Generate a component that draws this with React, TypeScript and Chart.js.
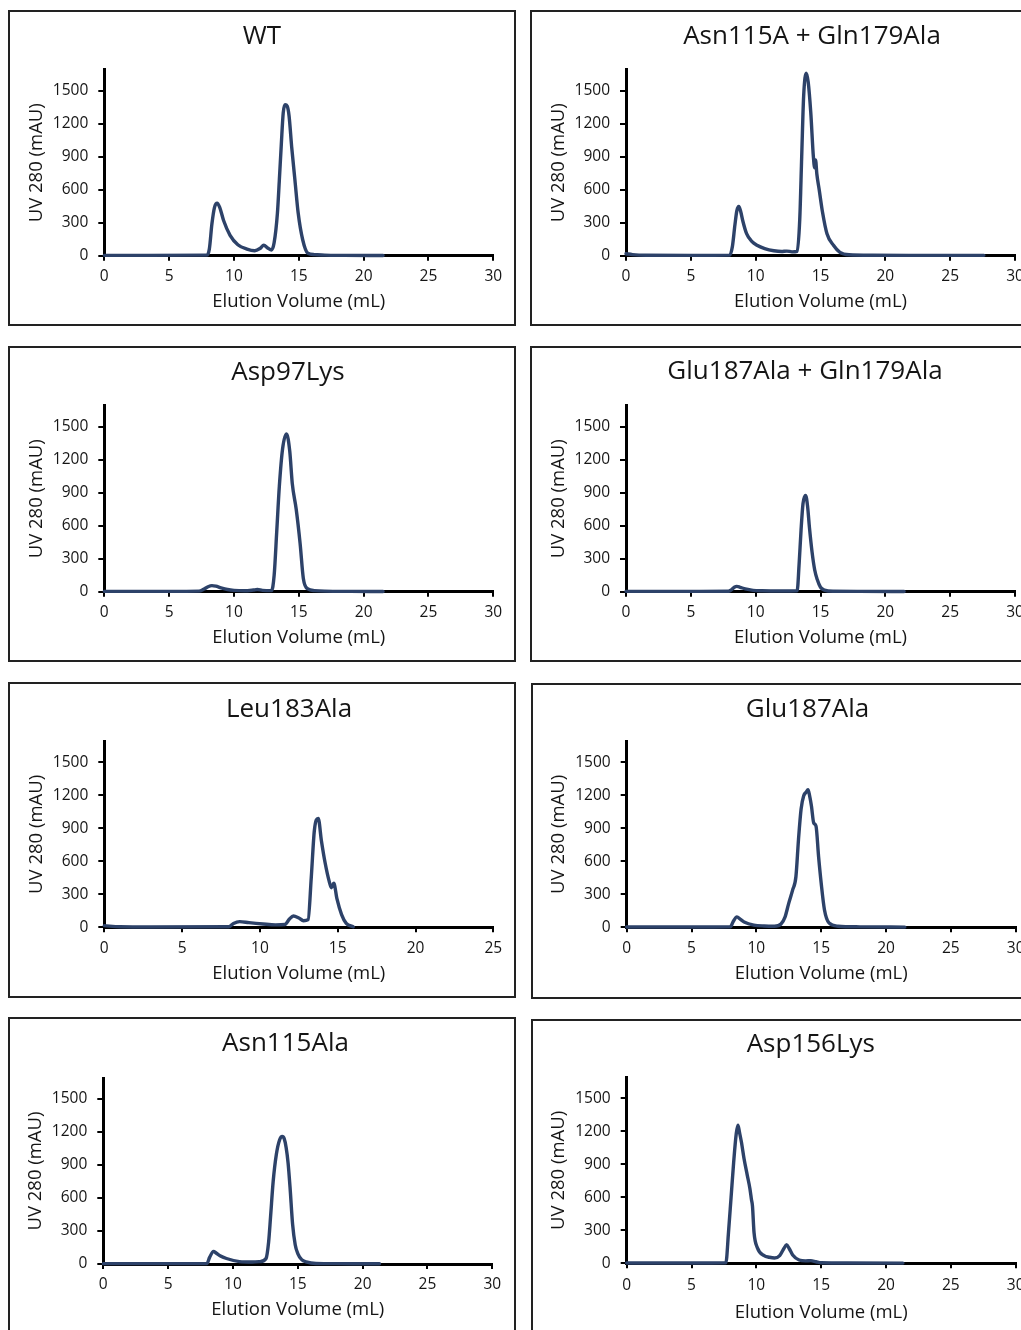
import React, { useEffect, useRef } from 'react';
import { Chart, registerables } from 'chart.js';

Chart.register(...registerables);

// ---------- data (elution volume in mL, UV 280 in mAU) ----------
const wtVolume = [0, 3, 7.9, 8.1, 8.3, 8.5, 8.7, 8.9, 9.2, 9.7, 10.3, 11.0, 11.6, 12.0, 12.3, 12.6, 12.9, 13.1, 13.35, 13.5, 13.65, 13.8, 13.95, 14.1, 14.25, 14.45, 14.7, 14.95, 15.3, 15.7, 16.2, 17, 18.5, 21.5];
const wtUV = [3, 3, 5, 60, 290, 440, 478, 440, 320, 185, 100, 60, 45, 65, 95, 70, 52, 120, 385, 690, 1010, 1300, 1372, 1360, 1270, 990, 690, 390, 145, 22, 10, 5, 3, 2];

const asnGlnVolume = [0, 0.5, 1.5, 5, 8.0, 8.2, 8.4, 8.55, 8.7, 8.85, 9.0, 9.3, 9.7, 10.1, 10.7, 11.4, 12.0, 12.4, 12.8, 13.2, 13.4, 13.55, 13.7, 13.9, 14.05, 14.25, 14.45, 14.55, 14.62, 14.72, 14.9, 15.15, 15.5, 16.0, 16.5, 17.2, 19, 22, 27.6];
const asnGlnUV = [18, 10, 4, 3, 5, 80, 280, 410, 448, 400, 320, 200, 130, 95, 65, 45, 38, 42, 35, 40, 330, 900, 1450, 1660, 1580, 1300, 900, 800, 870, 740, 600, 400, 200, 95, 30, 8, 4, 3, 3];

const asp97Volume = [0, 5, 7.3, 7.7, 8.0, 8.3, 8.6, 9.0, 9.5, 10.0, 10.8, 11.5, 11.8, 12.2, 12.9, 13.1, 13.3, 13.5, 13.75, 14.05, 14.3, 14.5, 14.8, 15.1, 15.35, 15.7, 16.2, 17, 19, 21.5];
const asp97UV = [3, 3, 5, 25, 45, 55, 50, 35, 20, 12, 8, 15, 20, 12, 10, 150, 550, 960, 1300, 1435, 1280, 980, 750, 440, 120, 25, 10, 5, 3, 2];

const gluGlnVolume = [0, 5, 7.9, 8.1, 8.35, 8.55, 8.8, 9.2, 9.8, 10.5, 12, 13.2, 13.35, 13.5, 13.65, 13.85, 14.0, 14.15, 14.35, 14.55, 14.75, 15.0, 15.3, 16.0, 18, 21.45];
const gluGlnUV = [3, 3, 4, 15, 40, 48, 40, 25, 12, 8, 6, 8, 250, 560, 800, 875, 780, 580, 360, 200, 110, 40, 15, 4, 3, 2];

const leu183Volume = [0, 1, 3, 8.0, 8.3, 8.7, 9.3, 10.2, 11.0, 11.6, 11.9, 12.15, 12.5, 12.8, 13.1, 13.3, 13.5, 13.75, 13.95, 14.2, 14.45, 14.6, 14.75, 14.95, 15.25, 15.55, 16.0];
const leu183UV = [15, 5, 3, 5, 35, 52, 42, 30, 22, 25, 75, 103, 85, 60, 70, 450, 880, 990, 790, 580, 420, 360, 400, 260, 115, 35, 5];

const glu187Volume = [0, 5, 8.0, 8.2, 8.5, 8.75, 9.1, 9.8, 10.6, 11.4, 11.9, 12.2, 12.5, 12.8, 13.05, 13.25, 13.45, 13.65, 13.85, 13.98, 14.1, 14.25, 14.42, 14.6, 14.8, 15.0, 15.25, 15.6, 16.3, 18, 21.45];
const glu187UV = [3, 3, 5, 50, 95, 75, 45, 20, 12, 10, 30, 90, 220, 340, 460, 800, 1075, 1195, 1230, 1250, 1200, 1100, 950, 920, 640, 400, 160, 40, 10, 4, 2];

const asn115Volume = [0, 5, 8.0, 8.2, 8.5, 8.7, 9.0, 9.5, 10.5, 11.5, 12.1, 12.55, 12.75, 12.9, 13.1, 13.35, 13.6, 13.8, 13.95, 14.1, 14.25, 14.4, 14.6, 14.8, 15.0, 15.3, 15.65, 16.4, 18, 21.3];
const asn115UV = [3, 3, 5, 60, 115, 100, 75, 50, 22, 18, 22, 50, 200, 430, 750, 1000, 1130, 1160, 1140, 1060, 920, 700, 360, 175, 95, 40, 20, 5, 3, 2];

const asp156Volume = [0, 5, 7.65, 7.85, 8.05, 8.25, 8.45, 8.58, 8.7, 8.85, 9.05, 9.3, 9.5, 9.62, 9.7, 9.82, 10.08, 10.6, 11.0, 11.4, 11.8, 12.1, 12.33, 12.55, 12.8, 13.3, 13.8, 14.2, 14.6, 15.0, 17, 21.3];
const asp156UV = [3, 3, 5, 280, 600, 920, 1180, 1256, 1190, 1100, 950, 800, 680, 580, 520, 280, 140, 70, 55, 48, 70, 130, 168, 130, 76, 30, 22, 24, 14, 5, 3, 2];

const xTicks30 = [0, 5, 10, 15, 20, 25, 30];
const xTicks25 = [0, 5, 10, 15, 20, 25];
const yTicks = [0, 300, 600, 900, 1200, 1500];
const yMax = 1690;

const xAxisTitle = 'Elution Volume (mL)';
const yAxisTitle = 'UV 280 (mAU)';

// ---------- styling / layout ----------
const FONT = '"Open Sans", "Noto Sans", sans-serif';
const LINE = '#2d4269';
const INK = '#151515';
const PX_PER_MAU = 0.11;
const PLOT_W = 389;
const CW = 504;
const CH = 312;
const BORDER = 2;
const TITLE_SIZE = 26;
const AXIS_TITLE_SIZE = 18.5;
const TICK_SIZE = 15.5;

type Panel = {
  title: string;
  volume: number[];
  uv: number[];
  xTicks: number[];
  boxX: number;
  boxY: number;
  axisX: number;
  axisY: number;
  titleX: number;
  titleY: number;
  xTitleDy: number;
  xLabelDy: number;
};

const panels: Panel[] = [
  { title: 'WT', volume: wtVolume, uv: wtUV, xTicks: xTicks30, boxX: 8, boxY: 10, axisX: 104.3, axisY: 255.7, titleX: 262, titleY: 37, xTitleDy: 46, xLabelDy: 21 },
  { title: 'Asn115A + Gln179Ala', volume: asnGlnVolume, uv: asnGlnUV, xTicks: xTicks30, boxX: 530, boxY: 10, axisX: 626, axisY: 255.7, titleX: 812, titleY: 37, xTitleDy: 46, xLabelDy: 21 },
  { title: 'Asp97Lys', volume: asp97Volume, uv: asp97UV, xTicks: xTicks30, boxX: 8, boxY: 346, axisX: 104.3, axisY: 591.7, titleX: 288, titleY: 372.5, xTitleDy: 46, xLabelDy: 21 },
  { title: 'Glu187Ala + Gln179Ala', volume: gluGlnVolume, uv: gluGlnUV, xTicks: xTicks30, boxX: 530, boxY: 346, axisX: 626, axisY: 591.7, titleX: 805, titleY: 372, xTitleDy: 46, xLabelDy: 21 },
  { title: 'Leu183Ala', volume: leu183Volume, uv: leu183UV, xTicks: xTicks25, boxX: 8, boxY: 682, axisX: 104.3, axisY: 927.3, titleX: 289, titleY: 710, xTitleDy: 46, xLabelDy: 21 },
  { title: 'Glu187Ala', volume: glu187Volume, uv: glu187UV, xTicks: xTicks30, boxX: 531, boxY: 683, axisX: 626.7, axisY: 927.3, titleX: 807.5, titleY: 709.3, xTitleDy: 46, xLabelDy: 21 },
  { title: 'Asn115Ala', volume: asn115Volume, uv: asn115UV, xTicks: xTicks30, boxX: 8, boxY: 1017, axisX: 103.3, axisY: 1264, titleX: 285.5, titleY: 1043.3, xTitleDy: 46, xLabelDy: 21 },
  { title: 'Asp156Lys', volume: asp156Volume, uv: asp156UV, xTicks: xTicks30, boxX: 531, boxY: 1019, axisX: 626.7, axisY: 1263.3, titleX: 810.8, titleY: 1045, xTitleDy: 49, xLabelDy: 22.5 },
];

function ChartPanel({ p }: { p: Panel }) {
  const ref = useRef<HTMLCanvasElement | null>(null);
  const cL = p.boxX + BORDER;
  const cT = p.boxY + BORDER;

  useEffect(() => {
    if (!ref.current) return;
    const chartTop = p.axisY - yMax * PX_PER_MAU;
    const axisFont = { family: FONT, size: AXIS_TITLE_SIZE };
    const tickFont = { family: FONT, size: TICK_SIZE };
    const lh = AXIS_TITLE_SIZE * 1.2;
    const tickLh = TICK_SIZE * 1.2;
    const xTitlePadBottom = CH - (p.axisY + p.xTitleDy - cT) - lh / 2;
    const yTitlePadTop = p.axisX - 67.6 - cL - lh / 2;
    const xTickPad = p.xLabelDy - 5 - tickLh / 2;
    const xMax = p.xTicks[p.xTicks.length - 1];

    const titlePlugin = {
      id: 'panelTitle',
      afterDraw(chart: any) {
        const ctx = chart.ctx;
        ctx.save();
        ctx.font = `${TITLE_SIZE}px ${FONT}`;
        ctx.fillStyle = INK;
        ctx.textAlign = 'center';
        ctx.textBaseline = 'middle';
        ctx.fillText(p.title, p.titleX - cL, p.titleY - cT);
        ctx.restore();
      },
    };

    const chart = new Chart(ref.current, {
      type: 'line',
      data: {
        datasets: [
          {
            data: p.volume.map((v, i) => ({ x: v, y: p.uv[i] })),
            borderColor: LINE,
            borderWidth: 3.4,
            pointRadius: 0,
            fill: false,
            cubicInterpolationMode: 'monotone',
            borderJoinStyle: 'round',
            borderCapStyle: 'round',
            clip: false,
          } as any,
        ],
      },
      options: {
        animation: false,
        responsive: false,
        devicePixelRatio: 1,
        events: [],
        layout: {
          padding: {
            left: 0,
            top: chartTop - cT,
            right: CW - (p.axisX + PLOT_W - cL),
            bottom: 0,
          },
        },
        plugins: {
          legend: { display: false },
          tooltip: { enabled: false },
          title: { display: false },
        },
        scales: {
          x: {
            type: 'linear',
            min: 0,
            max: xMax,
            afterBuildTicks: (s: any) => {
              s.ticks = p.xTicks.map((v) => ({ value: v }));
            },
            afterFit: (s: any) => {
              s.height = CH - (p.axisY - cT);
            },
            ticks: { font: tickFont, color: INK, padding: xTickPad, maxRotation: 0, autoSkip: false, callback: (v: any) => String(v) },
            grid: { drawOnChartArea: false, drawTicks: true, tickLength: 5, tickWidth: 2, tickColor: '#000', lineWidth: 2, color: '#000' },
            border: { display: true, color: '#000', width: 3 },
            title: { display: true, text: xAxisTitle, font: axisFont, color: INK, padding: { top: 0, bottom: xTitlePadBottom } },
          },
          y: {
            type: 'linear',
            min: 0,
            max: yMax,
            afterBuildTicks: (s: any) => {
              s.ticks = yTicks.map((v) => ({ value: v }));
            },
            afterFit: (s: any) => {
              s.width = p.axisX - cL;
            },
            ticks: { font: tickFont, color: INK, padding: 10, callback: (v: any) => String(v) },
            grid: { drawOnChartArea: false, drawTicks: true, tickLength: 6, tickWidth: 2, tickColor: '#000', lineWidth: 2, color: '#000' },
            border: { display: true, color: '#000', width: 3 },
            title: { display: true, text: yAxisTitle, font: axisFont, color: INK, padding: { top: yTitlePadTop, bottom: 0 } },
          },
        },
      } as any,
      plugins: [titlePlugin],
    });
    return () => chart.destroy();
  }, []);

  return (
    <>
      <div
        style={{
          position: 'absolute',
          left: p.boxX,
          top: p.boxY,
          width: 508,
          height: 316,
          boxSizing: 'border-box',
          border: `${BORDER}px solid #222`,
          background: '#fff',
        }}
      />
      <canvas
        ref={ref}
        width={CW}
        height={CH}
        style={{ position: 'absolute', left: cL, top: cT, width: CW, height: CH }}
      />
    </>
  );
}

export default function App() {
  return (
    <div
      style={{
        position: 'absolute',
        left: 0,
        top: 0,
        width: 1021,
        height: 1330,
        overflow: 'hidden',
        background: '#fff',
      }}
    >
      {panels.map((p) => (
        <ChartPanel key={p.title} p={p} />
      ))}
    </div>
  );
}
